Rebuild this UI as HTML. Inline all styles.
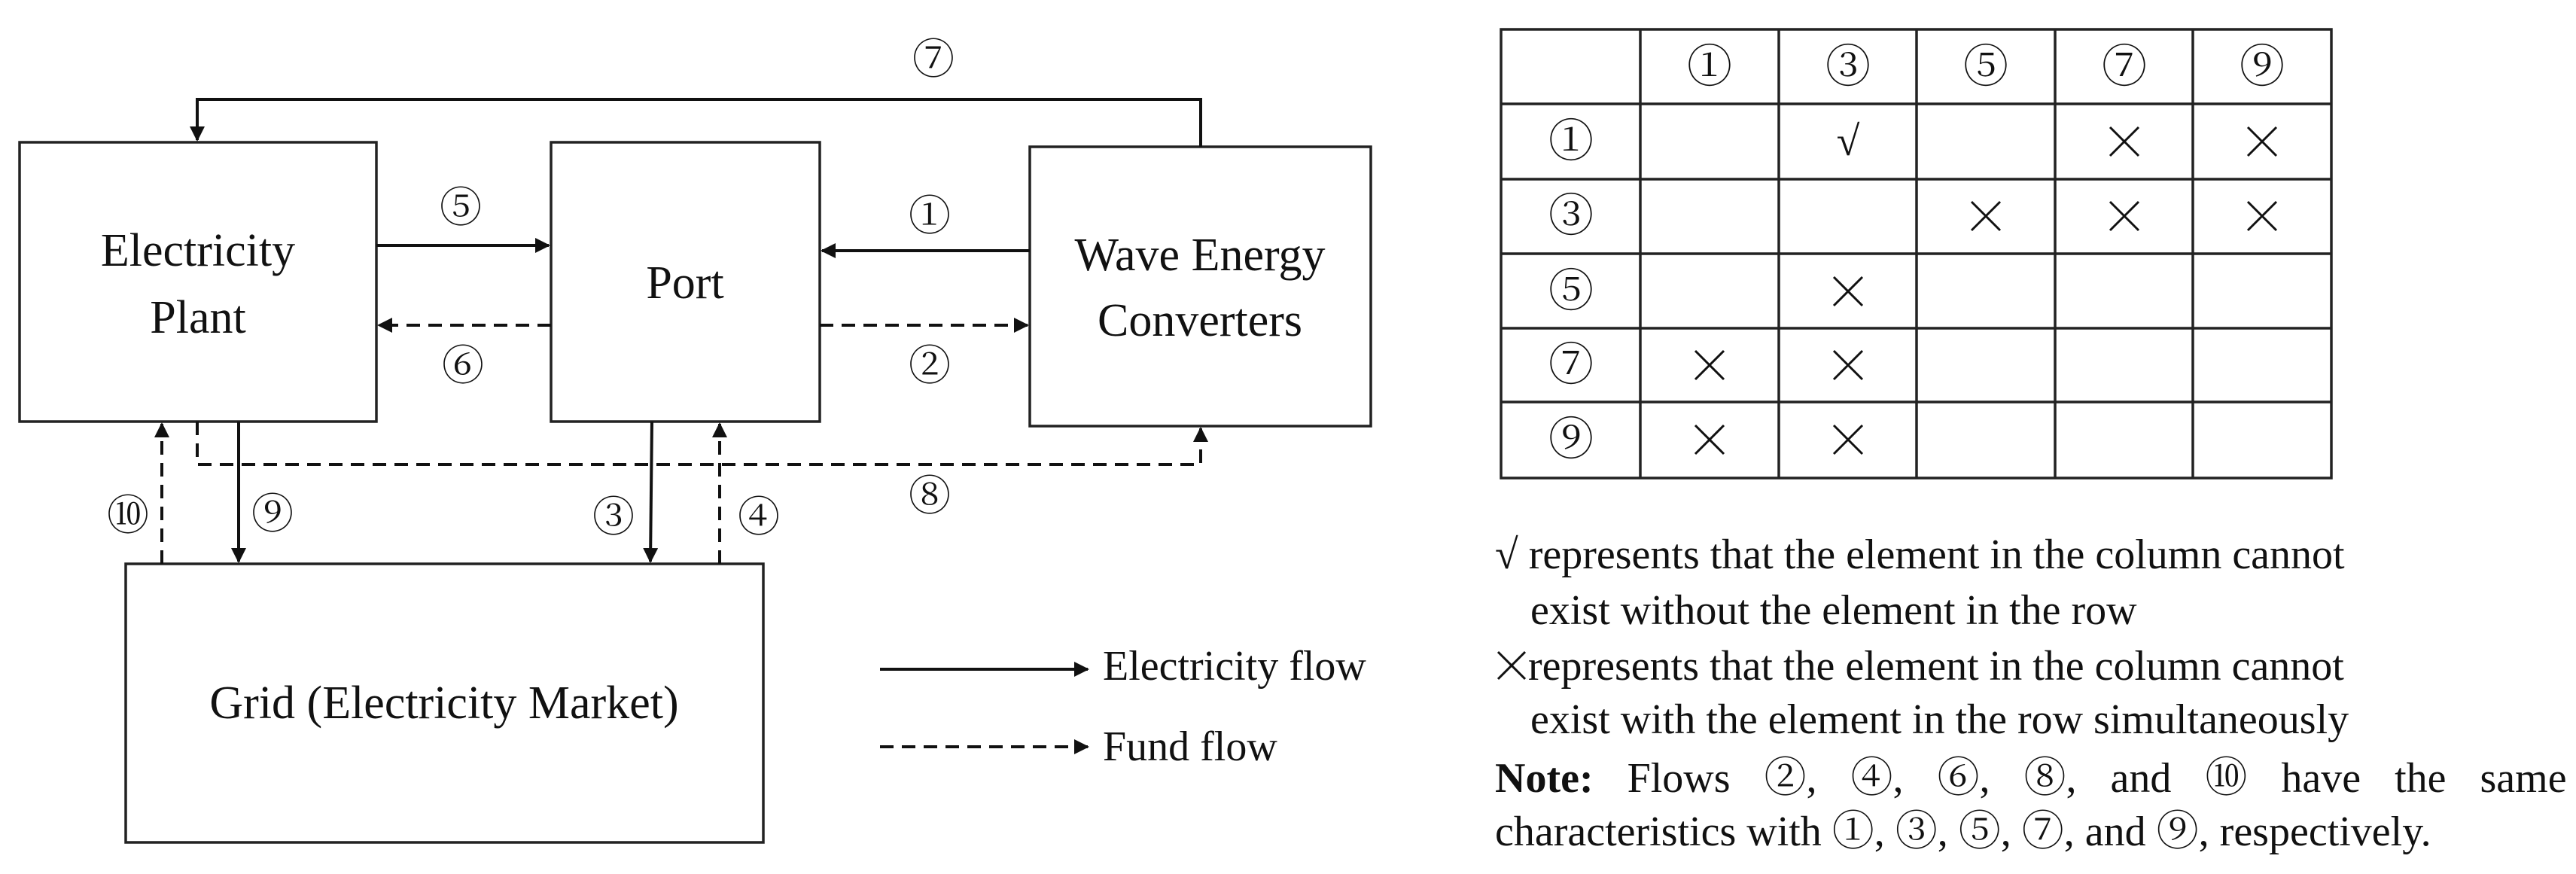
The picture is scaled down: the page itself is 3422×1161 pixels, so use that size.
<!DOCTYPE html>
<html><head><meta charset="utf-8"><style>
html,body{margin:0;padding:0;background:#fff;}
svg{display:block;}
text{font-family:"Liberation Serif","Noto Serif CJK SC","Noto Sans CJK SC",serif;fill:#111;}
</style></head><body>
<svg width="3422" height="1161" viewBox="0 0 3422 1161" xmlns="http://www.w3.org/2000/svg">
<defs>
<marker id="a" viewBox="0 0 10 10" refX="9" refY="5" markerWidth="5" markerHeight="5" orient="auto" markerUnits="strokeWidth">
<path d="M0,0 L10,5 L0,10 z" fill="#111"/></marker>
<path id="x" d="M-19,-19 L19,19 M19,-19 L-19,19" stroke="#111" stroke-width="3" fill="none"/>
</defs>
<g fill="none" stroke="#222" stroke-width="3.5">
<rect x="26" y="189" width="474" height="371"/>
<rect x="732" y="189" width="357" height="371"/>
<rect x="1368" y="195" width="453" height="371"/>
<rect x="167" y="749" width="847" height="370"/>
</g>
<g fill="none" stroke="#111" stroke-width="4">
<polyline points="1595,195 1595,132 262,132 262,186" marker-end="url(#a)"/>
<line x1="500" y1="326" x2="729" y2="326" marker-end="url(#a)"/>
<line x1="1368" y1="333" x2="1092" y2="333" marker-end="url(#a)"/>
<line x1="317" y1="560" x2="317" y2="746" marker-end="url(#a)"/>
<line x1="866" y1="560" x2="864" y2="746" marker-end="url(#a)"/>
<line x1="1169" y1="889" x2="1445" y2="889" marker-end="url(#a)"/>
</g>
<g fill="none" stroke="#111" stroke-width="4" stroke-dasharray="18,11">
<line x1="732" y1="432" x2="503" y2="432" marker-end="url(#a)"/>
<line x1="1089" y1="432" x2="1365" y2="432" marker-end="url(#a)"/>
<line x1="215" y1="749" x2="215" y2="563" marker-end="url(#a)"/>
<line x1="956" y1="749" x2="956" y2="563" marker-end="url(#a)"/>
<polyline points="262,560 262,617 1595,617 1595,569" marker-end="url(#a)"/>
<line x1="1169" y1="992" x2="1445" y2="992" marker-end="url(#a)"/>
</g>
<g font-size="62" text-anchor="middle" dominant-baseline="central">
<text x="263" y="333">Electricity</text>
<text x="263" y="422">Plant</text>
<text x="910" y="376">Port</text>
<text x="1594" y="339">Wave Energy</text>
<text x="1594" y="426">Converters</text>
<text x="590" y="934">Grid (Electricity Market)</text>
</g>
<g font-size="56" text-anchor="middle" dominant-baseline="central">
<text x="1240" y="80">⑦</text>
<text x="612" y="277">⑤</text>
<text x="1235" y="288">①</text>
<text x="615" y="487">⑥</text>
<text x="1235" y="487">②</text>
<text x="170" y="686">⑩</text>
<text x="362" y="684">⑨</text>
<text x="815" y="688">③</text>
<text x="1008" y="688">④</text>
<text x="1235" y="660">⑧</text>
</g>
<g font-size="56" dominant-baseline="central">
<text x="1465" y="885">Electricity flow</text>
<text x="1465" y="992">Fund flow</text>
</g>
<g stroke="#222" stroke-width="3.5" fill="none">
<rect x="1994" y="39" width="1103" height="596"/>
<line x1="2179" y1="39" x2="2179" y2="635"/>
<line x1="2363" y1="39" x2="2363" y2="635"/>
<line x1="2546" y1="39" x2="2546" y2="635"/>
<line x1="2730" y1="39" x2="2730" y2="635"/>
<line x1="2913" y1="39" x2="2913" y2="635"/>
<line x1="1994" y1="138" x2="3097" y2="138"/>
<line x1="1994" y1="238" x2="3097" y2="238"/>
<line x1="1994" y1="337" x2="3097" y2="337"/>
<line x1="1994" y1="436" x2="3097" y2="436"/>
<line x1="1994" y1="534" x2="3097" y2="534"/>
</g>
<g font-size="60" text-anchor="middle" dominant-baseline="central">
<text x="2271" y="89">①</text><text x="2455" y="89">③</text><text x="2638" y="89">⑤</text><text x="2822" y="89">⑦</text><text x="3005" y="89">⑨</text>
<text x="2087" y="188">①</text><text x="2087" y="287">③</text><text x="2087" y="387">⑤</text><text x="2087" y="485">⑦</text><text x="2087" y="584">⑨</text>
<text x="2455" y="188" font-size="56">√</text>
</g>
<use href="#x" x="2822" y="188"/><use href="#x" x="3005" y="188"/>
<use href="#x" x="2638" y="287"/><use href="#x" x="2822" y="287"/><use href="#x" x="3005" y="287"/>
<use href="#x" x="2455" y="387"/>
<use href="#x" x="2271" y="485"/><use href="#x" x="2455" y="485"/>
<use href="#x" x="2271" y="584"/><use href="#x" x="2455" y="584"/>
<g font-size="56" dominant-baseline="central">
<text x="1986" y="737">√ represents that the element in the column cannot</text>
<text x="2033" y="811">exist without the element in the row</text>
<text x="2030" y="885">represents that the element in the column cannot</text>
<text x="2033" y="956">exist with the element in the row simultaneously</text>
<text x="1986" y="1034" word-spacing="31"><tspan font-weight="bold">Note:</tspan> Flows ②, ④, ⑥, ⑧, and ⑩ have the same</text>
<text x="1986" y="1105">characteristics with ①, ③, ⑤, ⑦, and ⑨, respectively.</text>
</g>
<path d="M1990,866 L2026,902 M2026,866 L1990,902" stroke="#111" stroke-width="3" fill="none"/>
</svg>
</body></html>
